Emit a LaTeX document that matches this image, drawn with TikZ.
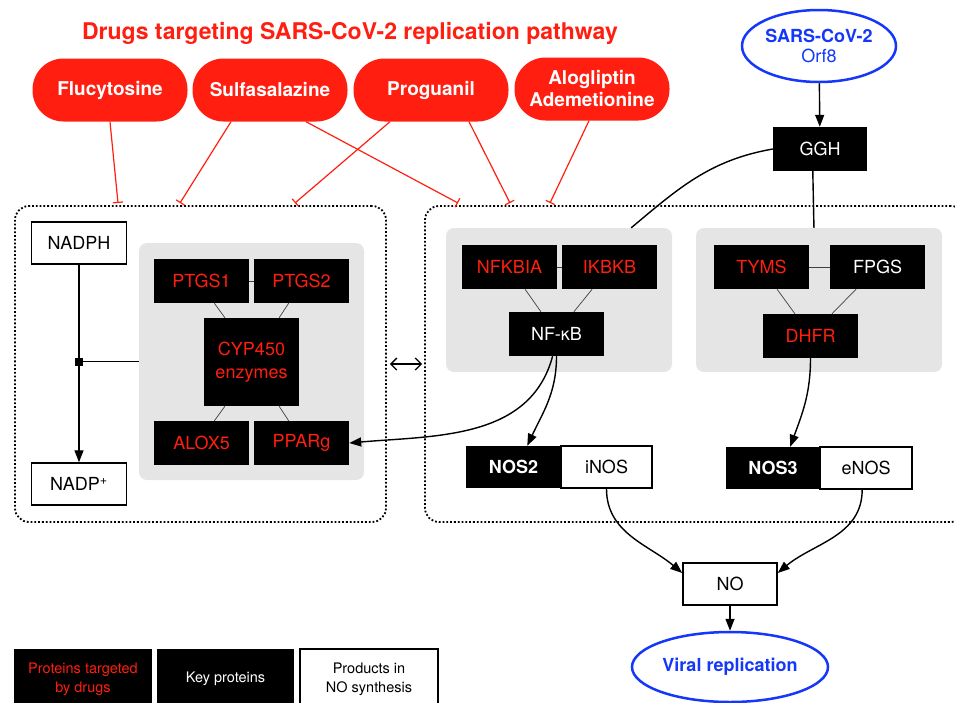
\documentclass[tikz,border=0pt]{standalone}
\usepackage{fontspec}
\setmainfont{TeX Gyre Heros}
\usepackage{tikz}
\usetikzlibrary{arrows,arrows.meta,shapes,shapes.geometric,calc}

\definecolor{drugred}{RGB}{255,30,15}
\definecolor{virusblue}{RGB}{20,55,250}
\definecolor{panelgray}{RGB}{229,229,229}

\tikzset{
  title/.style={text=drugred, font=\fontsize{23}{26}\selectfont\bfseries},
  drug/.style={fill=drugred, text=white, font=\fontsize{19}{22}\selectfont\bfseries, rounded corners=31pt, minimum width=155pt, minimum height=63pt, inner sep=0pt, align=center},
  redbox/.style={fill=black, text=drugred, font=\fontsize{18}{23}\selectfont, minimum width=95pt, minimum height=44pt, inner sep=0pt, align=center},
  keybox/.style={redbox, text=white},
  prodbox/.style={draw=black, line width=1.5pt, fill=white, text=black, font=\fontsize{18}{22}\selectfont, minimum height=42pt, inner sep=0pt, align=center},
  panel/.style={fill=panelgray, rounded corners=8pt, inner sep=0pt},
  zone/.style={draw=black, dotted, line width=1.8pt, rounded corners=14pt, inner sep=0pt},
  virus/.style={ellipse, draw=virusblue, line width=2.5pt, fill=white, text=virusblue, font=\fontsize{18}{20}\selectfont, inner sep=0pt, align=center},
  legend/.style={fill=black, font=\fontsize{14.5}{19}\selectfont, minimum width=138pt, minimum height=60pt, inner sep=0pt, align=center},
  inhib/.style={draw=drugred, line width=1.2pt, -{Bar[width=10pt,line width=1.2pt]}},
  link/.style={draw=black!75, line width=0.7pt},
  flow/.style={draw=black, line width=1.4pt, -{Triangle[length=12pt,width=9pt]}},
  junction/.style={fill=black, minimum size=8pt, inner sep=0pt}
}

\begin{document}
\begin{tikzpicture}[x=1pt,y=-1pt]
    \useasboundingbox (0,0) rectangle (955,702);
    \node[title] (title) at (350,33) {Drugs targeting SARS-CoV-2 replication pathway};
    \node[drug] (flu) at (110,90) {Flucytosine};
    \node[drug] (sulfa) at (270,90) {Sulfasalazine};
    \node[drug] (prog) at (431,90) {Proguanil};
    \node[drug] (alo) at (592,89) {Alogliptin\\Ademetionine};

    \node[zone, minimum width=371pt, minimum height=316pt] (lzone) at (200.5,364) {};
    \node[zone, minimum width=540pt, minimum height=316pt] (rzone) at (695,364) {};
    \node[panel, minimum width=225pt, minimum height=237pt] (cyppanel) at (251.5,361.5) {};
    \node[panel, minimum width=226pt, minimum height=144pt] (nfpanel) at (559,300) {};
    \node[panel, minimum width=246pt, minimum height=144pt] (dhpanel) at (819,300) {};

    \node[prodbox, minimum width=95pt] (nadph) at (79,243) {NADPH};
    \node[prodbox, minimum width=95pt] (nadp) at (79,484) {NADP\textsuperscript{+}};
    \node[redbox] (ptgs1) at (201.5,281) {PTGS1};
    \node[redbox] (ptgs2) at (301.5,281) {PTGS2};
    \node[redbox, minimum height=88pt] (cyp) at (251.5,362) {CYP450\\enzymes};
    \node[redbox] (alox5) at (201.5,443) {ALOX5};
    \node[redbox] (pparg) at (301.5,443) {PPARg};

    \node[redbox] (nfkbia) at (509.5,267) {NFKBIA};
    \node[redbox] (ikbkb) at (609.5,267) {IKBKB};
    \node[keybox] (nfkb) at (556.5,334) {NF-κB};
    \node[redbox] (tyms) at (761.5,267) {TYMS};
    \node[keybox] (fpgs) at (877.5,267) {FPGS};
    \node[redbox] (dhfr) at (810.5,336) {DHFR};

    \node[keybox, minimum height=42pt, font=\fontsize{18}{22}\selectfont\bfseries] (nos2) at (513.5,467) {NOS2};
    \node[prodbox, minimum width=91pt] (inos) at (606.5,467) {iNOS};
    \node[keybox, minimum width=94pt, minimum height=42pt, font=\fontsize{18}{22}\selectfont\bfseries] (nos3) at (773,468) {NOS3};
    \node[prodbox, minimum width=92pt] (enos) at (866,468) {eNOS};

    \node[virus, minimum width=154pt, minimum height=72pt] (sars) at (819,46) {\textbf{SARS-CoV-2}\\Orf8};
    \node[keybox, minimum width=94pt] (ggh) at (820,149) {GGH};
    \node[prodbox, minimum width=94pt] (no) at (730,584) {NO};
    \node[virus, minimum width=196pt, minimum height=70pt, font=\fontsize{18}{22}\selectfont\bfseries] (viral) at (730,667) {Viral replication};

    \node[legend, text=drugred] (leg1) at (83,679) {Proteins targeted\\by drugs};
    \node[legend, text=white, minimum width=137pt] (leg2) at (225.5,679) {Key proteins};
    \node[legend, fill=white, draw=black, line width=1.5pt, text=black] (leg3) at (369,679) {Products in\\NO synthesis};

    \coordinate (t1) at (118,203);
    \coordinate (t2) at (180,203);
    \coordinate (t3) at (458,203);
    \coordinate (t4) at (295,203);
    \coordinate (t5) at (510,203);
    \coordinate (t6) at (550,203);
    \draw[inhib] (flu.south) -- (t1);
    \draw[inhib] ($(sulfa.south)+(-39,0)$) -- (t2);
    \draw[inhib] ($(sulfa.south)+(36,0)$) -- (t3);
    \draw[inhib] ($(prog.south)+(-41,0)$) -- (t4);
    \draw[inhib] ($(prog.south)+(38,0)$) -- (t5);
    \draw[inhib] ($(alo.south)+(-3,0)$) -- (t6);

    \draw[flow] (nadph) -- (nadp);
    \node[junction] (jn) at (79,361.5) {};
    \draw[line width=1.4pt] (jn) -- (cyppanel.west);
    \draw[link] (ptgs1) -- (ptgs2);
    \draw[link] (ptgs1.-60) -- (cyp.121);
    \draw[link] (ptgs2.-120) -- (cyp.58);
    \draw[link] (alox5.60) -- (cyp.-121);
    \draw[link] (pparg.120) -- (cyp.-58);
    \draw[line width=1.3pt, {Straight Barb[length=6pt,width=12pt]}-{Straight Barb[length=6pt,width=12pt]}, shorten <=3pt, shorten >=2pt] (lzone.east) -- (rzone.west);

    \draw[link] (nfkbia) -- (ikbkb);
    \draw[link] (nfkbia.-55) -- (nfkb.125);
    \draw[link] (ikbkb.-128) -- (nfkb.52);
    \draw[link] (tyms) -- (fpgs);
    \draw[link] (tyms.-55) -- (dhfr.125);
    \draw[link] (fpgs.-134) -- (dhfr.46);

    \draw[flow] (sars) -- (ggh);
    \draw[line width=1.4pt] (ggh.west) to[out=190,in=40] (nfpanel.45);
    \draw[line width=1.4pt] (ggh.-108) -- (dhpanel.94);
    \draw[flow] (nfkb.south) to[out=-90,in=65] (nos2.57);
    \draw[flow] (nfkb.-100) to[out=-105,in=5] (pparg.east);
    \draw[flow] (dhfr.south) to[out=-90,in=70] (nos3.51);
    \draw[flow] (inos.south) to[out=-90,in=140] (no.167);
    \draw[flow] (enos.-100) to[out=-90,in=40] (no.13);
    \draw[flow] (no) -- (viral);
\end{tikzpicture}
\end{document}
